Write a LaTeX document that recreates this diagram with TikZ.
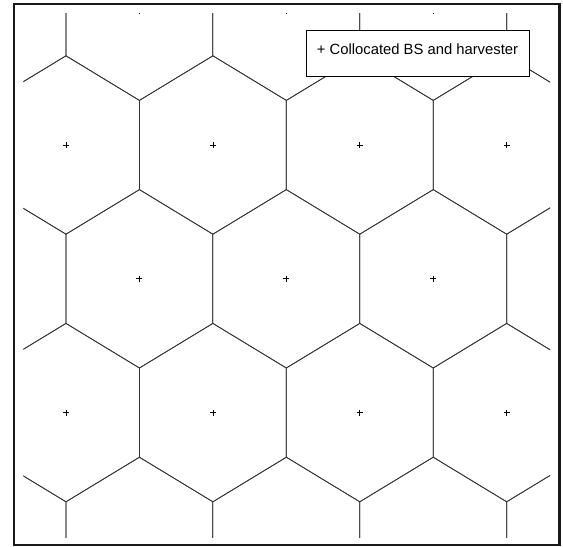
\documentclass[tikz,border=0pt]{standalone}
\usepackage{fontspec}
\setmainfont{Liberation Sans}
\begin{document}
\begin{tikzpicture}[x=0.75pt,y=-0.75pt,
  cell/.style={draw=black!80,line width=0.55pt},
  mk/.style={draw=black,line width=0.5pt},
  legendbox/.style={draw=black,line width=0.6pt,fill=white,inner sep=0pt,
    minimum width=166.9pt,minimum height=35pt},
  legendtext/.style={inner sep=0pt,font=\fontsize{11.1}{13}\selectfont},
  frame/.style={draw=black!90,line width=1.9pt}]
\useasboundingbox (0,0) rectangle (563,546);
\begin{scope}
  \clip (23.3,13) rectangle (550,537.3);
  \foreach \r in {0,...,6}{
    \pgfmathsetmacro\cy{11.2+133.8*(\r-1)}
    \pgfmathsetmacro\off{ifthenelse(isodd(\r),139.4,66)}
    \foreach \k in {-2,...,4}{
      \pgfmathsetmacro\cx{\off+146.9*\k}
      \draw[cell] (\cx,\cy-89.2) -- (\cx+73.45,\cy-44.6) -- (\cx+73.45,\cy+44.6)
        -- (\cx,\cy+89.2) -- (\cx-73.45,\cy+44.6) -- (\cx-73.45,\cy-44.6) -- cycle;
      \draw[mk] (\cx-3,\cy) -- (\cx+3,\cy) (\cx,\cy-3) -- (\cx,\cy+3);
    }
  }
\end{scope}
\node[legendbox] (legend) at (418,53.3) {};
\node[legendtext] (legtext) at (417.5,49) {+ Collocated BS and harvester};
\draw[frame] (14,4.2) rectangle (559.7,545);
\end{tikzpicture}
\end{document}
